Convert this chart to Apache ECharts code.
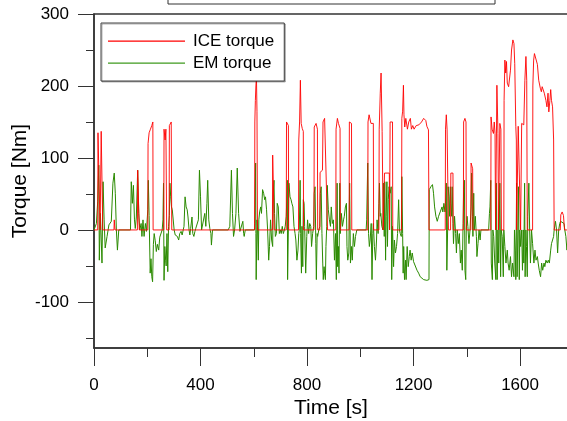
<!DOCTYPE html>
<html><head><meta charset="utf-8">
<script src="https://cdn.jsdelivr.net/npm/echarts@6/dist/echarts.min.js"></script>
<style>html,body{margin:0;padding:0;background:#fff}#c{width:567px;height:421px}</style>
</head><body><div id="c"></div>
<script>
const seriesNames = ['ICE torque', 'EM torque'];
const seriesColors = ['#ff0000', '#2b8a00'];
const xTicks = [0, 400, 800, 1200, 1600];
const xMinorTicks = [200, 600, 1000, 1400];
const yTicks = [-100, 0, 100, 200, 300];
const yMinorTicks = [-150, -50, 50, 150, 250];

const iceTime = [0,14,15,20,23,26,27,32,33,75,76,79,163,164,169,170,202,203,207,212,217,221,222,262,263,267,270,273,282,283,290,292,
603,604,606,608,610,612,614,670,671,676,677,722,723,730,731,768,769,772,775,778,782,786,787,826,827,834,839,840,848,849,858,860,866,873,877,
908,909,914,918,924,925,958,959,967,968,1028,1029,1033,1040,1049,1050,1070,1071,1075,1078,1082,1085,1086,1090,1091,1109,1110,1111,1112,1121,1122,
1155,1156,1159,1162,1164,1167,1171,1177,1182,1188,1192,1197,1202,1210,1220,1230,1238,1246,1250,1256,1258,1319,1320,1323,1326,1330,1331,1339,1340,1348,1349,
1387,1388,1393,1397,1398,1415,1416,1422,1423,1490,1491,1495,1500,1503,1506,1508,1511,1513,1517,1519,1523,1524,1528,1530,1539,1540,1543,1546,1549,1552,1557,1560,1564,1568,1573,1577,1580,1584,1586,1587,
1592,1593,1600,1602,1605,1606,1614,1618,1622,1625,1627,1647,1648,1651,1654,1661,1665,1670,1676,1680,1683,1687,1691,1697,1701,1705,1708,1712,1715,1718,1722,1726,1728,1751,1753,1758,1763,1767,1780];
const iceTorque = [0,0,135,137,0,0,137,137,0,0,14,0,0,83,83,0,0,120,135,140,145,150,0,0,140,125,140,0,0,145,150,0,
0,150,180,200,213,165,0,0,104,104,0,0,150,145,0,0,125,150,208,148,141,137,0,0,143,148,140,0,0,80,83,150,155,157,0,
0,140,155,148,141,0,0,150,148,0,0,150,160,148,148,0,0,140,190,218,137,135,0,0,79,79,0,0,150,150,0,
0,155,165,201,160,143,155,140,150,155,140,145,140,145,146,150,155,152,144,139,0,0,140,160,139,139,0,0,79,79,0,
0,150,155,150,0,0,93,85,0,0,157,140,134,150,134,0,0,201,134,0,0,148,140,0,0,180,236,218,234,204,199,201,222,250,264,259,231,144,125,0,
0,144,144,0,0,148,146,208,241,208,0,0,200,236,245,246,230,208,197,192,199,197,190,180,171,190,164,180,195,180,171,125,0,0,21,25,20,0,0];

const emTime = [0,6,9,14,18,20,24,30,34,38,42,49,56,65,71,76,80,84,88,93,137,140,144,148,152,155,159,164,168,172,177,180,184,188,193,197,
202,204,207,211,214,217,220,223,226,230,234,238,243,247,252,256,259,261,263,266,269,271,274,277,280,283,285,288,291,294,297,
301,305,308,313,318,322,327,331,335,338,342,346,350,353,357,360,363,368,371,375,379,382,387,392,396,400,404,407,411,416,420,424,427,431,435,439,441,445,504,510,516,520,524,528,533,538,543,548,554,559,562,564,568,603,
604,607,608,609,612,614,617,619,622,626,629,633,637,641,644,648,652,656,659,663,667,671,673,676,678,681,685,688,692,696,700,703,707,711,715,718,722,726,727,730,732,736,740,743,747,751,755,758,762,766,769,771,774,776,779,781,784,786,789,791,795,799,802,806,810,814,817,821,825,827,830,833,835,838,840,844,848,850,853,856,859,861,864,866,869,871,874,876,880,884,888,891,895,899,
903,907,910,913,915,918,920,923,925,929,933,937,940,944,948,950,953,957,960,963,967,970,974,978,982,987,1022,1024,1028,1031,1034,1037,1041,1044,1047,1049,1053,1057,1061,1063,1067,1070,1072,1075,1077,1081,1085,1087,1090,1092,1095,1097,1100,1102,1105,1108,1112,1116,1118,1121,1125,1128,1132,1136,1140,1144,1147,1150,1154,1156,1159,1161,1163,1166,1170,1172,1176,1180,1184,1187,1191,1195,1200,
1206,1213,1219,1225,1231,1238,1250,1258,1259,1265,1271,1275,1279,1284,1289,1294,1300,1307,1310,1314,1318,1320,1323,1325,1328,1330,1333,1335,1338,1340,1343,1345,1348,1350,1354,1358,1361,1364,1368,1372,1376,1379,1383,1386,1388,1391,1393,1396,1398,1401,1404,1408,1412,1416,1418,1421,1423,1426,1428,1432,1436,1438,1442,1446,1450,1453,1482,1485,1487,1490,1492,1496,1498,1501,
1505,1509,1511,1514,1517,1520,1524,1527,1529,1533,1537,1539,1543,1547,1552,1555,1559,1564,1568,1572,1577,1579,1582,1584,1587,1589,1592,1594,1597,1599,1602,1606,1609,1612,1614,1617,1619,1622,1624,1627,1629,1633,1636,1639,1643,1647,1652,1656,1660,1665,1668,1672,1677,1681,1685,1690,1693,1697,1702,1706,1710,1715,1718,1722,1726,1728,1733,1737,1741,1745,1749,1752,1759,1765,1768,1772,1776,1780];
const emTorque = [0,0,9,40,90,-42,23,-46,67,14,-25,-9,7,12,65,79,51,0,-28,0,0,67,37,62,14,2,18,83,23,0,9,-9,14,-9,9,-2,
28,69,20,-60,-40,-65,-72,-20,-5,-15,-30,-20,-28,-10,-9,0,14,65,-70,-23,-42,-50,-5,-58,5,20,65,46,32,28,30,
0,-7,-5,-9,-14,-5,-2,-7,0,5,46,32,28,18,0,-7,2,18,-5,-9,-2,2,0,14,83,46,0,-2,0,23,5,37,69,14,2,-5,-21,0,0,5,83,23,-9,0,23,86,23,-2,0,12,-5,-9,0,0,
9,93,-5,-69,14,5,-42,14,25,32,23,56,51,42,46,28,0,-42,-23,14,-14,-23,51,69,23,-9,-5,37,32,-5,0,-5,5,-5,0,5,19,69,-69,5,65,46,42,37,32,5,-5,-14,-42,-28,-5,0,69,-5,-60,5,-51,42,37,5,-60,-9,14,-5,9,5,-23,-5,5,51,60,-19,-69,-5,-9,0,5,51,60,-5,-46,-69,-51,-60,-69,-23,5,62,28,14,5,32,9,14,
-42,-5,-69,65,-51,-23,-60,65,-5,23,5,14,19,32,37,-23,-42,-32,65,-46,-23,-42,-5,-23,-9,0,0,14,93,-5,-23,-14,9,-69,-5,9,-23,-42,-14,14,-5,37,65,19,23,5,0,65,-9,67,-42,19,67,-23,42,60,51,60,-69,5,-51,-14,-32,-23,-5,42,0,-5,-9,74,-5,-60,-23,-69,-42,-69,-23,-51,-37,-28,-42,-32,-44,
-46,-56,-60,-65,-67,-69,-70,-69,56,60,63,51,32,19,12,19,25,32,25,37,25,37,65,-56,0,60,46,19,60,37,19,60,9,-19,19,-5,-32,0,-19,-5,-46,-28,-56,9,56,69,-56,-69,0,19,5,-19,0,32,79,19,-9,51,0,19,-9,-37,-19,0,-14,0,0,23,32,69,-46,-69,0,-9,
-46,-69,65,-69,0,-46,65,-65,0,-9,-65,0,-23,-46,-28,-46,-56,-37,-65,-46,-65,0,-28,-69,65,-65,0,60,-69,0,-23,0,-56,0,-46,65,-65,0,-23,-65,19,65,0,-46,0,-19,-46,-28,-42,-37,-46,-56,-65,-46,-56,-46,-51,-42,-46,-42,-46,-28,-19,-19,-9,0,12,0,-32,0,9,12,12,9,0,-9,-28,-9];

function pairs(t, v) { return t.map((x, i) => [x, v[i]]); }

const chart = echarts.init(document.getElementById('c'), null, {renderer: 'canvas'});
const FONT = 'Liberation Sans, Arial, sans-serif';
const AX = '#333333';
const plain = v => String(v);
chart.setOption({
  animation: false,
  backgroundColor: '#ffffff',
  color: seriesColors,
  grid: {left: 94, right: -1, top: 14, bottom: 73, show: true, borderColor: AX, borderWidth: 1.5,
         containLabel: false, outerBoundsMode: 'none'},
  legend: {
    data: seriesNames,
    orient: 'vertical', left: 101, top: 23,
    padding: [10, 10, 9, 7], itemGap: 5, itemWidth: 77, itemHeight: 14,
    icon: 'rect', itemStyle: {opacity: 0},
    borderColor: '#404040', borderWidth: 1, backgroundColor: '#fff',
    shadowColor: 'rgba(0,0,0,0.3)', shadowOffsetX: 1, shadowOffsetY: 1, shadowBlur: 0,
    textStyle: {fontFamily: FONT, fontSize: 17, color: '#000', padding: [0, 0, 0, 3], lineHeight: 17}
  },
  xAxis: [{
    type: 'value', min: 0, max: 1780, interval: 400,
    name: 'Time [s]', nameLocation: 'middle', nameGap: 50, nameMoveOverlap: false,
    nameTextStyle: {fontFamily: FONT, fontSize: 21, color: '#000'},
    axisLine: {show: true, onZero: false, lineStyle: {color: AX, width: 1.5}},
    axisTick: {show: true, inside: false, length: 18, customValues: xTicks, lineStyle: {color: AX, width: 1}},
    axisLabel: {fontFamily: FONT, fontSize: 17, color: '#000', margin: 29, customValues: xTicks, formatter: plain},
    splitLine: {show: false}
  }, {
    type: 'value', min: 0, max: 1780, position: 'bottom',
    axisLine: {show: false, onZero: false},
    axisTick: {show: true, length: 9, customValues: xMinorTicks, lineStyle: {color: AX, width: 1}},
    axisLabel: {show: false},
    splitLine: {show: false}
  }],
  yAxis: [{
    type: 'value', min: -164, max: 300,
    name: 'Torque [Nm]', nameLocation: 'middle', nameGap: 63, nameRotate: 90, nameMoveOverlap: false,
    nameTextStyle: {fontFamily: FONT, fontSize: 21, color: '#000'},
    axisLine: {show: true, onZero: false, lineStyle: {color: AX, width: 1.5}},
    axisTick: {show: true, length: 16, customValues: yTicks, lineStyle: {color: AX, width: 1}},
    axisLabel: {fontFamily: FONT, fontSize: 17, color: '#000', margin: 25, customValues: yTicks, formatter: plain},
    splitLine: {show: false}
  }, {
    type: 'value', min: -164, max: 300, position: 'left',
    axisLine: {show: false, onZero: false},
    axisTick: {show: true, length: 8, customValues: yMinorTicks, lineStyle: {color: AX, width: 1}},
    axisLabel: {show: false},
    splitLine: {show: false}
  }],
  graphic: [{
    type: 'rect', shape: {x: 168, y: -20, width: 327, height: 24},
    style: {fill: 'none', stroke: '#333', lineWidth: 1}, z: 10
  }, {
    type: 'rect', shape: {x: 108, y: 40.5, width: 77, height: 1.3},
    style: {fill: seriesColors[0], stroke: null, lineWidth: 0}, z: 20
  }, {
    type: 'rect', shape: {x: 108, y: 62.5, width: 77, height: 1.3},
    style: {fill: '#3f9a1e', stroke: null, lineWidth: 0}, z: 20
  }],
  series: [{
    name: seriesNames[0], type: 'line', data: pairs(iceTime, iceTorque), color: seriesColors[0],
    symbol: 'none', z: 3, lineStyle: {color: seriesColors[0], width: 1, opacity: 0.9}, itemStyle: {color: seriesColors[0]}
  }, {
    name: seriesNames[1], type: 'line', data: pairs(emTime, emTorque), color: seriesColors[1],
    symbol: 'none', z: 2, lineStyle: {color: seriesColors[1], width: 1}, itemStyle: {color: seriesColors[1]}
  }]
});
</script></body></html>
